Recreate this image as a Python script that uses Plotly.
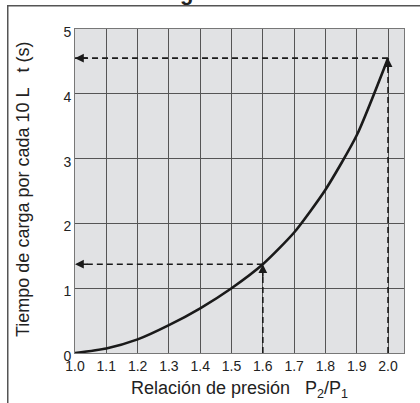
import plotly.graph_objects as go

ratio = [1.0, 1.1, 1.2, 1.3, 1.4, 1.5, 1.6, 1.7, 1.8, 1.9, 2.0]
time_s = [0.0, 0.07, 0.21, 0.43, 0.69, 1.0, 1.37, 1.86, 2.52, 3.36, 4.55]
x_ticks = [1.0, 1.1, 1.2, 1.3, 1.4, 1.5, 1.6, 1.7, 1.8, 1.9, 2.0]
x_tick_labels = ["1.0", "1.1", "1.2", "1.3", "1.4", "1.5", "1.6", "1.7", "1.8", "1.9", "2.0"]
y_ticks = [0, 1, 2, 3, 4, 5]
read_x = [1.6, 2.0]
read_y = [1.37, 4.55]

L, R, T, B = 75, 16, 29, 50
W, H = 420, 403
pw, ph = W - L - R, H - T - B

def px(xp):
    return (xp - L) / pw

def py(yp):
    return (H - B - yp) / ph

fig = go.Figure()

dash_style = dict(color="#1a1a1a", width=1.6, dash="6px,4px")
for rx, ry in zip(read_x, read_y):
    fig.add_trace(go.Scatter(x=[rx, rx], y=[0, ry], mode="lines", line=dash_style,
                             hoverinfo="skip", showlegend=False))
    fig.add_trace(go.Scatter(x=[rx, 1.0], y=[ry, ry], mode="lines", line=dash_style,
                             hoverinfo="skip", showlegend=False))

fig.add_trace(go.Scatter(x=ratio, y=time_s, mode="lines",
                         line=dict(color="#1a1a1a", width=2.6, shape="spline", smoothing=0.6),
                         showlegend=False))

ann = []
for rx, ry in zip(read_x, read_y):
    ann.append(dict(x=rx, y=ry, xref="x", yref="y", ax=0, ay=14, text="", showarrow=True,
                    arrowhead=2, arrowsize=1.1, arrowwidth=1.6, arrowcolor="#1a1a1a", standoff=0))
    ann.append(dict(x=1.0, y=ry, xref="x", yref="y", ax=14, ay=0, text="", showarrow=True,
                    arrowhead=2, arrowsize=1.1, arrowwidth=1.6, arrowcolor="#1a1a1a", standoff=0))
# partially visible title glyph at the top edge
ann.append(dict(x=px(186), y=py(-7), xref="paper", yref="paper", xanchor="center", yanchor="middle",
                text="<b>g</b>", showarrow=False, font=dict(size=22, color="#222", family="Liberation Sans, Arial")))
# outer frame (only top and left edges visible)
ann.append(dict(x=px(7), y=py(5), xref="paper", yref="paper", xanchor="left", yanchor="top",
                text=" ", showarrow=False, width=440, height=420, borderwidth=1.5,
                bordercolor="#555", borderpad=0))
# y axis title
ann.append(dict(x=px(23), y=py(190), xref="paper", yref="paper", xanchor="center", yanchor="middle",
                textangle=-90, showarrow=False,
                text="Tiempo de carga por cada 10 L&nbsp;&nbsp;&nbsp;t (s)",
                font=dict(size=18, color="#222")))

fig.update_layout(
    width=W, height=H,
    margin=dict(l=L, r=R, t=T, b=B, autoexpand=False),
    paper_bgcolor="white",
    plot_bgcolor="#e1e2e4",
    font=dict(family="Liberation Sans, Arial, sans-serif", size=14, color="#222"),
    annotations=ann,
)
fig.update_xaxes(range=[1.0, 2.051], tickvals=x_ticks, ticktext=x_tick_labels,
                 showgrid=True, gridcolor="#555", gridwidth=1, zeroline=False,
                 showline=True, linecolor="#777", linewidth=1, mirror=True,
                 ticks="", tickfont=dict(size=14), automargin=False,
                 title=dict(text="Relación de presión&nbsp;&nbsp;&nbsp;P<sub>2</sub>/P<sub>1</sub>",
                            font=dict(size=18), standoff=8))
fig.update_yaxes(range=[0, 5], tickvals=y_ticks, showgrid=True, gridcolor="#555", gridwidth=1,
                 zeroline=False, showline=True, linecolor="#777", linewidth=1, mirror=True,
                 ticks="", tickfont=dict(size=14), ticklabelshift=3, automargin=False)

fig.write_html("out.html", config={"displayModeBar": False},
               post_script="document.body.style.margin='0';")
